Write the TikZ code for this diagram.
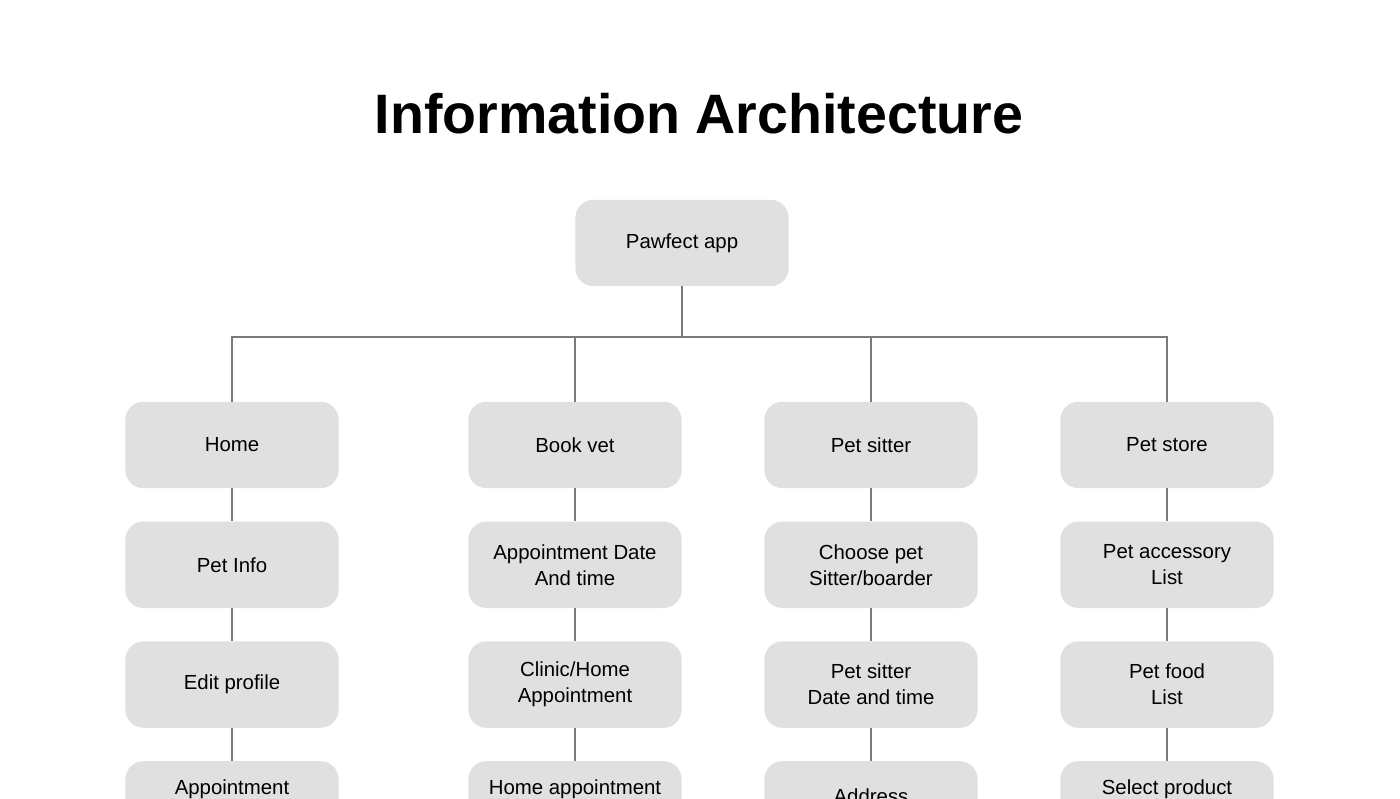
\documentclass[tikz,border=0pt]{standalone}
\usepackage{fontspec}
\setmainfont{Liberation Sans}
\usetikzlibrary{positioning}
\definecolor{boxgray}{HTML}{E0E0E0}
\definecolor{linegray}{HTML}{7A7A7A}

\begin{document}
\begin{tikzpicture}[x=0.025cm,y=-0.025cm,node distance=0.82cm,
  box/.style={fill=boxgray,rounded corners=0.45cm,minimum width=5.33cm,minimum height=2.16cm,
    align=center,font=\fontsize{14.5}{18.5}\selectfont},
  link/.style={draw=linegray,line width=1.4pt}]
  \useasboundingbox (0,0) rectangle (1400,799);
  \clip (0,0) rectangle (1400,799);

  % Titel
  \node[font=\fontsize{39.5}{48}\selectfont\bfseries] (title) at (699,114) {Information Architecture};

  % Wurzel
  \node[box] (app) at (682,243) {Pawfect app};
  \coordinate (bus) at (682,337);

  % Spalten
  \node[box] (home) at (232,445) {Home};
  \node[box,below=of home] (info) {Pet Info};
  \node[box,below=of info] (profile) {Edit profile};
  \node[box,below=of profile] (appt) {Appointment\\\strut};

  \node[box] (vet) at (575,445) {Book vet};
  \node[box,below=of vet] (date) {Appointment Date\\And time};
  \node[box,below=of date] (clinic) {Clinic/Home\\Appointment};
  \node[box,below=of clinic] (homeappt) {Home appointment\\\strut};

  \node[box] (sitter) at (871,445) {Pet sitter};
  \node[box,below=of sitter] (choose) {Choose pet\\Sitter/boarder};
  \node[box,below=of choose] (sitterdate) {Pet sitter\\Date and time};
  \node[box,below=of sitterdate,text depth=12pt] (address) {Address};

  \node[box] (store) at (1167,445) {Pet store};
  \node[box,below=of store] (accessory) {Pet accessory\\List};
  \node[box,below=of accessory] (food) {Pet food\\List};
  \node[box,below=of food] (product) {Select product\\\strut};

  % Verbindungen
  \draw[link] (app) -- (bus);
  \draw[link] (home.north) |- (store.north |- bus) -- (store.north);
  \draw[link] (vet.north) -- (vet.north |- bus);
  \draw[link] (sitter.north) -- (sitter.north |- bus);
  \draw[link] (home) -- (info) (info) -- (profile) (profile) -- (appt);
  \draw[link] (vet) -- (date) (date) -- (clinic) (clinic) -- (homeappt);
  \draw[link] (sitter) -- (choose) (choose) -- (sitterdate) (sitterdate) -- (address);
  \draw[link] (store) -- (accessory) (accessory) -- (food) (food) -- (product);
\end{tikzpicture}
\end{document}
